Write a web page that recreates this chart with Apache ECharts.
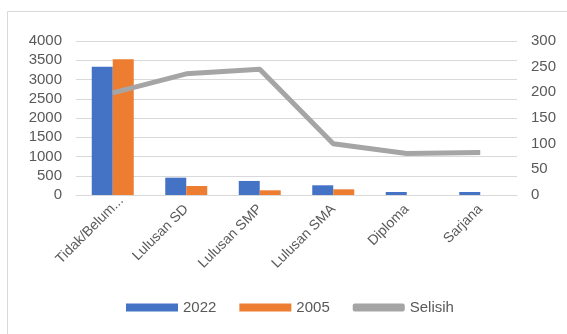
<!DOCTYPE html>
<html lang="en">
<head>
    <meta charset="UTF-8">
    <title>Chart</title>
    <script src="https://cdn.jsdelivr.net/npm/echarts@6/dist/echarts.min.js"></script>
    <style>
        html, body { margin: 0; padding: 0; background: #fff; }
    </style>
</head>
<body>
    <div id="ec" style="width:567px;height:334px"></div>
</body>
<script>
    var categories = ['Tidak/Belum...', 'Lulusan SD', 'Lulusan SMP', 'Lulusan SMA', 'Diploma', 'Sarjana']
    var data2022 = [3330, 450, 365, 252, 78, 78]
    var data2005 = [3525, 234, 122, 148, 0, 0]
    var selisih = [199, 236, 245, 100, 81, 83]

    var labelColor = '#595959'
    var gridColor = '#d9d9d9'
    var fontFam = '"Liberation Sans", Arial, sans-serif'

    // first label sits a little further along its slant, like in the original
    var catData = categories.map(function (c, i) {
        if (i == 0) {
            return { value: c, textStyle: { padding: [0, -12, 0, 0] } }
        }
        return c
    })

    var mychart = echarts.init(document.getElementById('ec'))
    var options = {
        animation: false,
        textStyle: { fontFamily: fontFam },
        graphic: [{
            type: 'rect',
            shape: { x: 7.5, y: 11.5, width: 600, height: 400 },
            style: { fill: 'none', stroke: '#d9d9d9', lineWidth: 1 }
        }],
        grid: { left: 76, right: 50, top: 41, bottom: 139 },
        legend: {
            left: 121,
            top: 295,
            itemWidth: 52,
            itemHeight: 8,
            itemGap: 23,
            textStyle: { fontSize: 15, color: labelColor, fontFamily: fontFam },
            data: [
                { name: '2022', icon: 'rect' },
                { name: '2005', icon: 'rect' },
                { name: 'Selisih', icon: 'roundRect' }
            ]
        },
        xAxis: {
            type: 'category',
            data: catData,
            axisLine: { lineStyle: { color: gridColor } },
            axisTick: { show: false },
            axisLabel: {
                rotate: 45,
                interval: 0,
                margin: 12,
                fontSize: 14,
                color: labelColor
            }
        },
        yAxis: [{
            type: 'value',
            min: 0,
            max: 4000,
            interval: 500,
            axisLine: { show: false },
            axisTick: { show: false },
            splitLine: { lineStyle: { color: gridColor, width: 1 } },
            axisLabel: {
                fontSize: 15, color: labelColor, margin: 14,
                formatter: function (v) { return String(v) }
            }
        }, {
            type: 'value',
            min: 0,
            max: 300,
            interval: 50,
            axisLine: { show: false },
            axisTick: { show: false },
            splitLine: { show: false },
            axisLabel: {
                fontSize: 15, color: labelColor, margin: 14,
                formatter: function (v) { return String(v) }
            }
        }],
        series: [{
            name: '2022',
            type: 'bar',
            barWidth: 21,
            barGap: '0%',
            itemStyle: { color: '#4472c4' },
            data: data2022
        }, {
            name: '2005',
            type: 'bar',
            barWidth: 21,
            itemStyle: { color: '#ed7d31' },
            data: data2005
        }, {
            name: 'Selisih',
            type: 'line',
            yAxisIndex: 1,
            symbol: 'none',
            lineStyle: { color: '#a5a5a5', width: 5 },
            itemStyle: { color: '#a5a5a5' },
            data: selisih
        }]
    }
    mychart.setOption(options)
</script>
</html>
